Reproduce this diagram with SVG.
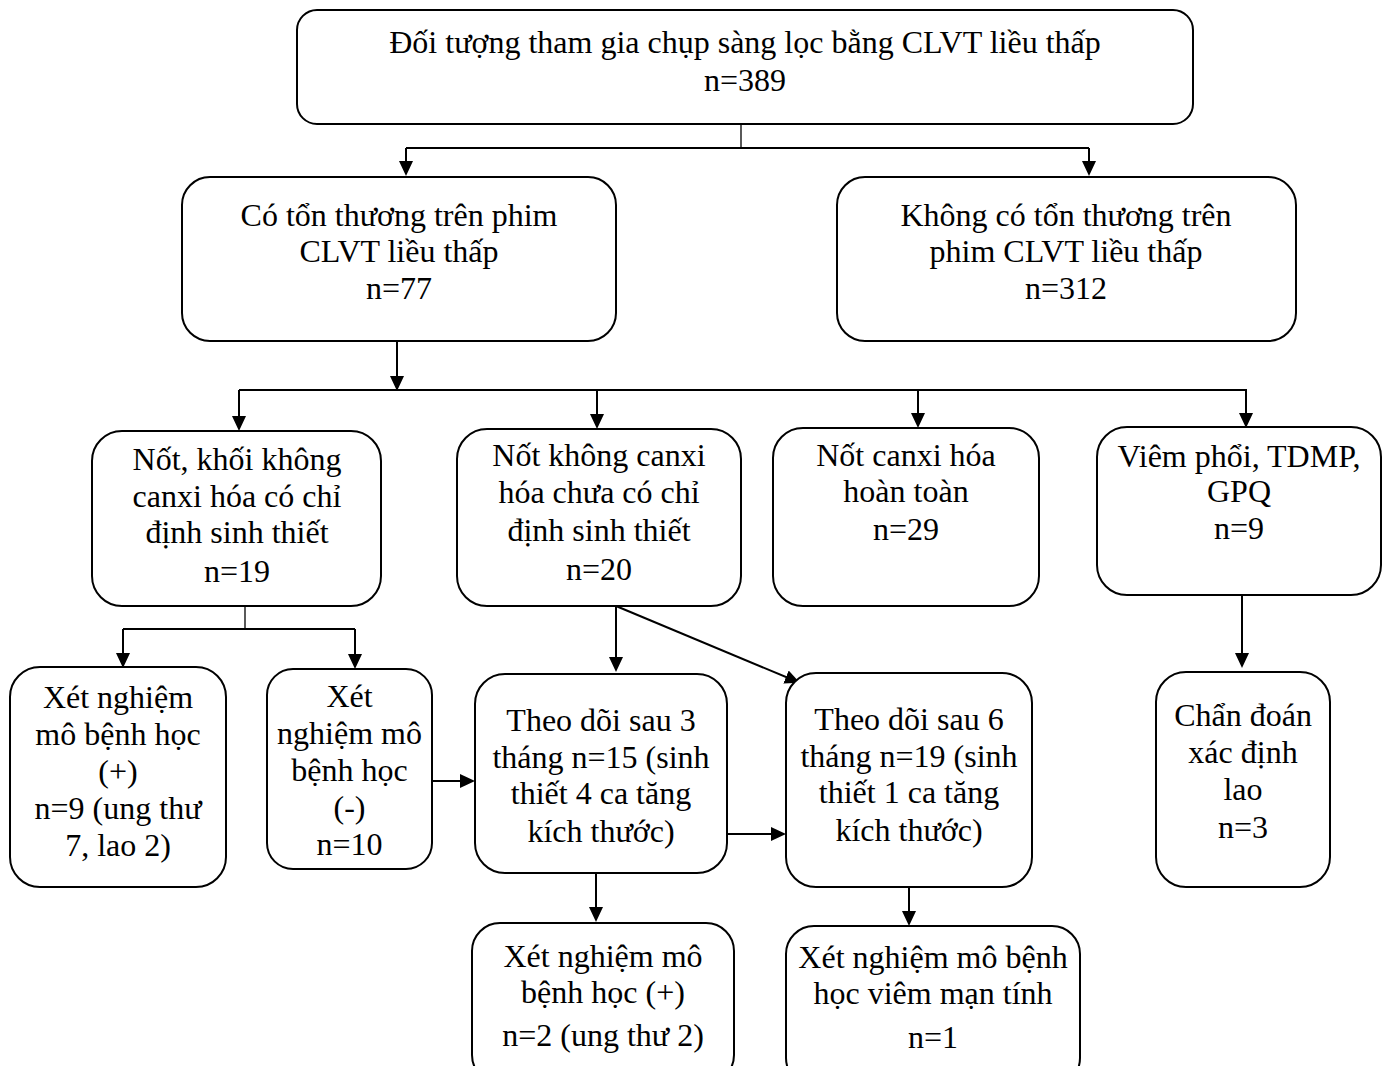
<svg xmlns="http://www.w3.org/2000/svg" width="1386" height="1066" viewBox="0 0 1386 1066">
<style>
.box{fill:#fff;stroke:#000;stroke-width:2}
.t{font-family:"Liberation Serif","Times New Roman",serif;font-size:32px;fill:#000;text-anchor:middle}
.c{fill:none;stroke:#000;stroke-width:2}
.thin{fill:none;stroke:#000;stroke-width:1.3}
</style>
<defs>
<marker id="ah" markerUnits="userSpaceOnUse" markerWidth="16" markerHeight="14" refX="13" refY="7" orient="auto">
<path d="M0,0 L15,7 L0,14 z" fill="#000"/>
</marker>
</defs>
<rect width="1386" height="1066" fill="#fff"/>
<g id="connectors">
<line class="thin" x1="741" y1="124" x2="741" y2="148"/>
<line class="c" x1="406" y1="148" x2="1089" y2="148"/>
<line class="c" x1="406" y1="148" x2="406" y2="174" marker-end="url(#ah)"/>
<line class="c" x1="1089" y1="148" x2="1089" y2="174" marker-end="url(#ah)"/>
<line class="c" x1="397" y1="341" x2="397" y2="389" marker-end="url(#ah)"/>
<line class="c" x1="239" y1="390" x2="1247" y2="390"/>
<line class="c" x1="239" y1="390" x2="239" y2="429" marker-end="url(#ah)"/>
<line class="c" x1="597" y1="390" x2="597" y2="427" marker-end="url(#ah)"/>
<line class="c" x1="918" y1="390" x2="918" y2="426" marker-end="url(#ah)"/>
<line class="c" x1="1246" y1="390" x2="1246" y2="426" marker-end="url(#ah)"/>
<line class="thin" x1="245" y1="603" x2="245" y2="628"/>
<line class="c" x1="123" y1="629" x2="355" y2="629"/>
<line class="c" x1="123" y1="629" x2="123" y2="666" marker-end="url(#ah)"/>
<line class="c" x1="355" y1="629" x2="355" y2="667" marker-end="url(#ah)"/>
<line class="c" x1="430" y1="781" x2="473" y2="781" marker-end="url(#ah)"/>
<line class="c" x1="616" y1="606" x2="616" y2="670" marker-end="url(#ah)"/>
<line class="c" x1="616" y1="606" x2="798" y2="682" marker-end="url(#ah)"/>
<line class="c" x1="728" y1="834" x2="784" y2="834" marker-end="url(#ah)"/>
<line class="c" x1="596" y1="873" x2="596" y2="920" marker-end="url(#ah)"/>
<line class="c" x1="909" y1="887" x2="909" y2="924" marker-end="url(#ah)"/>
<line class="c" x1="1242" y1="595" x2="1242" y2="666" marker-end="url(#ah)"/>
</g>
<g id="n1">
<rect class="box" x="297" y="10" width="896" height="114" rx="20"/>
<text class="t" x="745" y="53">Đối tượng tham gia chụp sàng lọc bằng CLVT liều thấp</text>
<text class="t" x="745" y="91">n=389</text>
</g>
<g id="n2">
<rect class="box" x="182" y="177" width="434" height="164" rx="28"/>
<text class="t" x="399" y="226">Có tổn thương trên phim</text>
<text class="t" x="399" y="262">CLVT liều thấp</text>
<text class="t" x="399" y="299">n=77</text>
</g>
<g id="n3">
<rect class="box" x="837" y="177" width="459" height="164" rx="28"/>
<text class="t" x="1066" y="226">Không có tổn thương trên</text>
<text class="t" x="1066" y="262">phim CLVT liều thấp</text>
<text class="t" x="1066" y="299">n=312</text>
</g>
<g id="n4">
<rect class="box" x="92" y="431" width="289" height="175" rx="30"/>
<text class="t" x="237" y="470">Nốt, khối không</text>
<text class="t" x="237" y="507">canxi hóa có chỉ</text>
<text class="t" x="237" y="543">định sinh thiết</text>
<text class="t" x="237" y="582">n=19</text>
</g>
<g id="n5">
<rect class="box" x="457" y="429" width="284" height="177" rx="30"/>
<text class="t" x="599" y="466">Nốt không canxi</text>
<text class="t" x="599" y="503">hóa chưa có chỉ</text>
<text class="t" x="599" y="541">định sinh thiết</text>
<text class="t" x="599" y="580">n=20</text>
</g>
<g id="n6">
<rect class="box" x="773" y="428" width="266" height="178" rx="30"/>
<text class="t" x="906" y="466">Nốt canxi hóa</text>
<text class="t" x="906" y="502">hoàn toàn</text>
<text class="t" x="906" y="540">n=29</text>
</g>
<g id="n7">
<rect class="box" x="1097" y="427" width="284" height="168" rx="30"/>
<text class="t" x="1239" y="467">Viêm phổi, TDMP,</text>
<text class="t" x="1239" y="502">GPQ</text>
<text class="t" x="1239" y="539">n=9</text>
</g>
<g id="n8">
<rect class="box" x="10" y="667" width="216" height="220" rx="30"/>
<text class="t" x="118" y="708">Xét nghiệm</text>
<text class="t" x="118" y="745">mô bệnh học</text>
<text class="t" x="118" y="782">(+)</text>
<text class="t" x="118" y="819">n=9 (ung thư</text>
<text class="t" x="118" y="856">7, lao 2)</text>
</g>
<g id="n9">
<rect class="box" x="267" y="669" width="165" height="200" rx="26"/>
<text class="t" x="349.5" y="707">Xét</text>
<text class="t" x="349.5" y="744">nghiệm mô</text>
<text class="t" x="349.5" y="781">bệnh học</text>
<text class="t" x="349.5" y="818">(-)</text>
<text class="t" x="349.5" y="855">n=10</text>
</g>
<g id="n10">
<rect class="box" x="475" y="674" width="252" height="199" rx="30"/>
<text class="t" x="601" y="731">Theo dõi sau 3</text>
<text class="t" x="601" y="768">tháng n=15 (sinh</text>
<text class="t" x="601" y="804">thiết 4 ca tăng</text>
<text class="t" x="601" y="842">kích thước)</text>
</g>
<g id="n11">
<rect class="box" x="786" y="673" width="246" height="214" rx="30"/>
<text class="t" x="909" y="730">Theo dõi sau 6</text>
<text class="t" x="909" y="767">tháng n=19 (sinh</text>
<text class="t" x="909" y="803">thiết 1 ca tăng</text>
<text class="t" x="909" y="841">kích thước)</text>
</g>
<g id="n12">
<rect class="box" x="472" y="923" width="262" height="160" rx="28"/>
<text class="t" x="603" y="967">Xét nghiệm mô</text>
<text class="t" x="603" y="1003">bệnh học (+)</text>
<text class="t" x="603" y="1046">n=2 (ung thư 2)</text>
</g>
<g id="n13">
<rect class="box" x="786" y="926" width="294" height="160" rx="28"/>
<text class="t" x="933" y="968">Xét nghiệm mô bệnh</text>
<text class="t" x="933" y="1004">học viêm mạn tính</text>
<text class="t" x="933" y="1048">n=1</text>
</g>
<g id="n14">
<rect class="box" x="1156" y="672" width="174" height="215" rx="30"/>
<text class="t" x="1243" y="726">Chẩn đoán</text>
<text class="t" x="1243" y="763">xác định</text>
<text class="t" x="1243" y="800">lao</text>
<text class="t" x="1243" y="838">n=3</text>
</g>
</svg>
